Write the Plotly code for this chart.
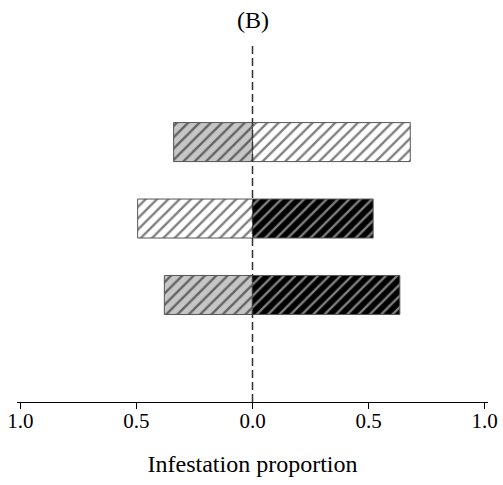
import plotly.graph_objects as go

# Data (rows top to bottom)
rows = [3, 2, 1]
left_values = [0.34, 0.495, 0.38]
right_values = [0.68, 0.52, 0.635]
left_bg = ["#c6c6c6", "#ffffff", "#c6c6c6"]
left_fg = ["#000000", "#000000", "#000000"]
right_bg = ["#ffffff", "#000000", "#000000"]
right_fg = ["#000000", "#ffffff", "#ffffff"]
tick_vals = [-1.0, -0.5, 0.0, 0.5, 1.0]
tick_text = ["1.0", "0.5", "0.0", "0.5", "1.0"]

fig = go.Figure()


def add_seg(y, x, bg, fg):
    fig.add_trace(go.Bar(
        y=[y], x=[x], orientation="h", width=0.51,
        marker=dict(color=bg, line=dict(color="#555555", width=1),
                    pattern=dict(shape="/", fgcolor=fg, size=8,
                                 solidity=0.3, fillmode="overlay")),
        showlegend=False, hoverinfo="skip"))


for i, r in enumerate(rows):
    add_seg(r, -left_values[i], left_bg[i], left_fg[i])
    add_seg(r, right_values[i], right_bg[i], right_fg[i])

fig.add_shape(type="line", xref="x", yref="paper", x0=0, x1=0, y0=0, y1=1,
              line=dict(color="#333333", width=1.5, dash="8px,4px"))

fig.add_annotation(text="(B)", xref="x", yref="paper", x=0, y=1,
                   yshift=25, yanchor="middle", showarrow=False,
                   font=dict(family="Liberation Serif", size=24, color="#000"))

fig.update_layout(
    width=503, height=485,
    margin=dict(l=17, r=15, t=45, b=83),
    paper_bgcolor="white", plot_bgcolor="white",
    barmode="overlay",
    font=dict(family="Liberation Serif", color="#000"),
    xaxis=dict(range=[-1.015, 1.015], tickvals=tick_vals, ticktext=tick_text,
               automargin=False, ticklabelstandoff=-6,
               showline=True, linecolor="#000", linewidth=1, ticks="outside",
               ticklen=6, tickcolor="#000", showgrid=False, zeroline=False,
               tickfont=dict(size=21),
               title=dict(text="Infestation proportion", font=dict(size=24), standoff=22)),
    yaxis=dict(range=[-0.4, 4.27], visible=False, showgrid=False, zeroline=False,
               automargin=False),
)

fig.write_html("out.html")
